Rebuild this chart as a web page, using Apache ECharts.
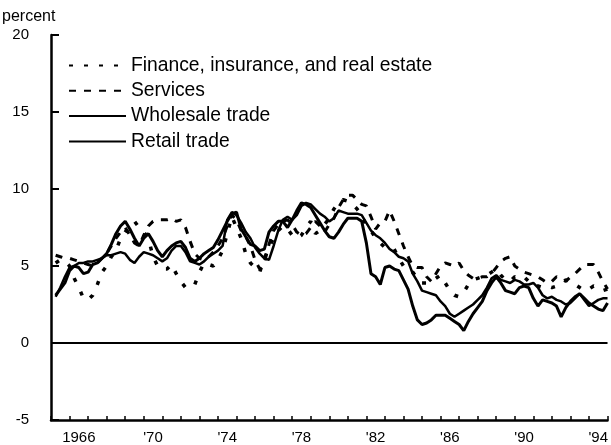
<!DOCTYPE html>
<html>
<head>
<meta charset="utf-8">
<script src="https://cdn.jsdelivr.net/npm/echarts@6/dist/echarts.min.js"></script>
<style>
html,body{margin:0;padding:0;background:#fff;}
#chart{width:611px;height:445px;}
</style>
</head>
<body>
<div id="chart"></div>
<script>
// Year categories for the bottom axis (ticks at year boundaries, labels centred on years)
const yearCats = ['1965','1966','1967','1968','1969','1970','1971','1972','1973','1974',
  '1975','1976','1977','1978','1979','1980','1981','1982','1983','1984',
  '1985','1986','1987','1988','1989','1990','1991','1992','1993','1994'];
const labelYears = ['1966','1970','1974','1978','1982','1986','1990','1994'];
const yTicks = [-5, 0, 5, 10, 15, 20];

// Quarterly observations, first at 1965.25, one every quarter
const startYear = 1965.25;
const stepYears = 0.25;

const finance = [
  5.2,5.4,5.3,5.0, 4.2,3.6,2.9,2.8, 3.1,3.8,4.6,5.0, 5.6,6.0,6.8,7.2, 7.6,7.9,7.5,7.2,
  6.8,5.6,5.0,4.8, 4.8,5.1,4.5,4.0, 3.6,3.6,3.8,4.6, 5.2,5.1,5.0,5.4, 6.0,7.1,8.2,7.5,
  6.8,5.8,5.2,4.9, 4.6,5.5,6.2,6.8, 7.3,7.6,7.4,7.0, 6.8,7.0,7.5,7.9, 7.1,7.3,7.7,8.1,
  8.7,9.1,9.3,9.2, 9.0,8.7,8.3,7.6, 7.3,6.8,6.5,6.2, 6.2,6.1,5.5,5.0, 4.9,4.6,4.2,3.9,
  3.9,4.0,4.2,4.4, 3.9,3.4,3.1,3.0, 3.3,3.8,4.1,4.2, 4.3,4.4,4.6,4.8, 4.4,4.1,4.0,4.3,
  4.2,4.3,4.0,3.7, 3.7,3.6,3.7,3.6, 3.7,3.9,4.1,4.0, 3.8,3.6,3.4,3.5, 3.7,3.6,3.4,3.5
];
const services = [
  5.7,5.6,5.5,5.5, 5.4,5.3,5.2,5.1, 5.0,5.2,5.5,5.8, 6.3,6.8,7.2,7.5, 7.0,6.5,6.3,7.0,
  7.6,7.9,8.0,8.0, 8.0,8.1,7.9,8.0, 7.5,6.6,5.8,5.5, 5.4,5.6,5.9,6.3, 6.8,7.6,8.3,8.0,
  7.3,6.9,6.3,5.4, 4.8,5.2,6.4,7.3, 7.7,7.9,8.0,7.7, 7.2,7.0,7.1,7.5, 7.9,7.6,7.2,7.7,
  8.1,8.8,9.3,9.6, 9.6,9.3,9.0,8.9, 8.2,7.4,7.8,7.9, 8.6,7.9,7.1,6.3, 5.6,5.0,4.9,4.9,
  4.3,4.0,4.5,5.0, 5.2,5.1,5.0,5.2, 4.7,4.4,4.2,4.2, 4.3,4.3,4.5,4.9, 5.3,5.5,5.6,5.0,
  4.8,4.6,4.5,4.4, 4.3,4.1,3.9,4.0, 4.3,4.2,4.0,4.3, 4.5,4.8,5.1,5.1, 5.1,4.6,4.0,3.5
];
const wholesale = [
  3.0,3.6,4.3,4.9, 5.0,5.2,5.2,5.3, 5.3,5.4,5.5,5.7, 5.7,5.8,5.9,5.8, 5.4,5.2,5.6,5.9,
  5.8,5.7,5.5,5.3, 5.5,6.0,6.3,6.3, 5.9,5.3,5.2,5.1, 5.3,5.6,5.8,6.0, 6.3,8.0,8.5,8.3,
  7.8,7.2,6.8,6.2, 5.8,5.5,5.4,6.3, 7.3,8.0,8.2,8.0, 8.3,8.9,9.1,9.0, 8.7,8.4,8.2,7.9,
  8.1,8.6,8.5,8.4, 8.4,8.4,8.3,7.8, 7.3,7.0,6.8,6.5, 6.1,5.9,5.6,5.5, 5.3,4.5,4.0,3.4,
  3.3,3.2,3.1,2.7, 2.4,1.9,1.7,1.9, 2.1,2.3,2.5,2.8, 3.1,3.6,4.2,4.4, 4.1,4.0,3.9,4.1,
  4.0,3.8,3.8,3.9, 3.6,3.1,2.9,3.0, 2.8,2.7,2.5,2.6, 2.9,3.2,2.8,2.4, 2.6,2.8,2.9,2.9
];
const retail = [
  3.1,3.5,3.9,4.7, 5.0,4.9,4.5,4.6, 5.1,5.2,5.5,5.8, 6.4,7.1,7.6,7.9, 7.4,6.8,6.3,6.8,
  7.1,6.6,6.0,5.6, 6.0,6.3,6.5,6.6, 6.2,5.5,5.3,5.5, 5.8,6.0,6.2,6.7, 7.3,7.9,8.4,8.5,
  7.4,6.9,6.4,6.3, 6.0,6.1,7.2,7.6, 7.9,7.9,7.5,8.0, 8.6,9.1,9.0,8.8, 8.3,7.8,7.3,6.9,
  6.8,7.2,7.7,8.1, 8.1,8.1,7.9,6.5, 4.5,4.3,3.8,4.9, 5.0,4.8,4.7,4.1, 3.5,2.4,1.5,1.2,
  1.3,1.5,1.8,1.8, 1.8,1.6,1.4,1.2, 0.8,1.4,1.9,2.3, 2.7,3.4,3.9,4.3, 3.9,3.4,3.3,3.2,
  3.6,3.7,3.6,2.9, 2.4,2.8,2.7,2.6, 2.4,1.7,2.3,2.7, 3.0,3.2,2.9,2.6, 2.4,2.2,2.1,2.6
];

function pairs(values) {
  return values.map((v, i) => [startYear + i * stepYears, v]);
}

const FONT = '"Liberation Sans", Arial, Helvetica, sans-serif';
const chart = echarts.init(document.getElementById('chart'), null, {renderer: 'canvas'});

chart.setOption({
  animation: false,
  backgroundColor: '#ffffff',
  title: {
    text: 'percent', left: 2, top: 9, padding: 0,
    textStyle: {fontFamily: FONT, fontSize: 16, fontWeight: 'normal', color: '#000'}
  },
  legend: {
    orient: 'vertical', left: 68, top: 56, padding: 0,
    itemWidth: 57, itemHeight: 14, itemGap: 6.3,
    itemStyle: {opacity: 0, borderWidth: 0},
    textStyle: {fontFamily: FONT, fontSize: 19.3, color: '#000', lineHeight: 19},
    data: ['Finance, insurance, and real estate', 'Services', 'Wholesale trade', 'Retail trade']
  },
  grid: {left: 51, right: 2, top: 35, bottom: 25, containLabel: false},
  xAxis: [
    {type: 'value', min: 1965, max: 1995, show: false},
    {
      type: 'category', data: yearCats, boundaryGap: true, position: 'bottom',
      axisLine: {show: true, onZero: false, lineStyle: {color: '#000', width: 2.5}},
      axisTick: {show: true, inside: true, length: 4, interval: 0, lineStyle: {color: '#000', width: 1.5}},
      axisLabel: {
        interval: (idx, val) => labelYears.indexOf(val) >= 0,
        formatter: (val) => val === '1966' ? '1966' : "'" + val.slice(2),
        fontFamily: FONT, fontSize: 15, color: '#000', margin: 10
      },
      splitLine: {show: false}
    }
  ],
  yAxis: {
    type: 'value', min: yTicks[0], max: yTicks[yTicks.length - 1], interval: 5,
    axisLine: {show: true, onZero: false, lineStyle: {color: '#000', width: 2.5}},
    axisTick: {show: true, inside: true, length: 8, lineStyle: {color: '#000', width: 2}},
    axisLabel: {fontFamily: FONT, fontSize: 15, color: '#000', margin: 22},
    splitLine: {show: false}
  },
  series: [
    {
      name: 'Finance, insurance, and real estate', type: 'line', xAxisIndex: 0,
      data: pairs(finance), symbol: 'none', color: '#000',
      lineStyle: {color: '#000', width: 3.5, type: [4, 11], cap: 'butt'},
      markLine: {
        silent: true, symbol: ['none', 'none'], label: {show: false},
        lineStyle: {color: '#000', type: 'solid', width: 2},
        data: [{yAxis: 0}]
      }
    },
    {
      name: 'Services', type: 'line', xAxisIndex: 0,
      data: pairs(services), symbol: 'none', color: '#000',
      lineStyle: {color: '#000', width: 3, type: [7, 8], cap: 'butt'}
    },
    {
      name: 'Wholesale trade', type: 'line', xAxisIndex: 0,
      data: pairs(wholesale), symbol: 'none', color: '#000',
      lineStyle: {color: '#000', width: 2.5, type: 'solid'}
    },
    {
      name: 'Retail trade', type: 'line', xAxisIndex: 0,
      data: pairs(retail), symbol: 'none', color: '#000',
      lineStyle: {color: '#000', width: 3, type: 'solid'}
    }
  ]
});
</script>
</body>
</html>
